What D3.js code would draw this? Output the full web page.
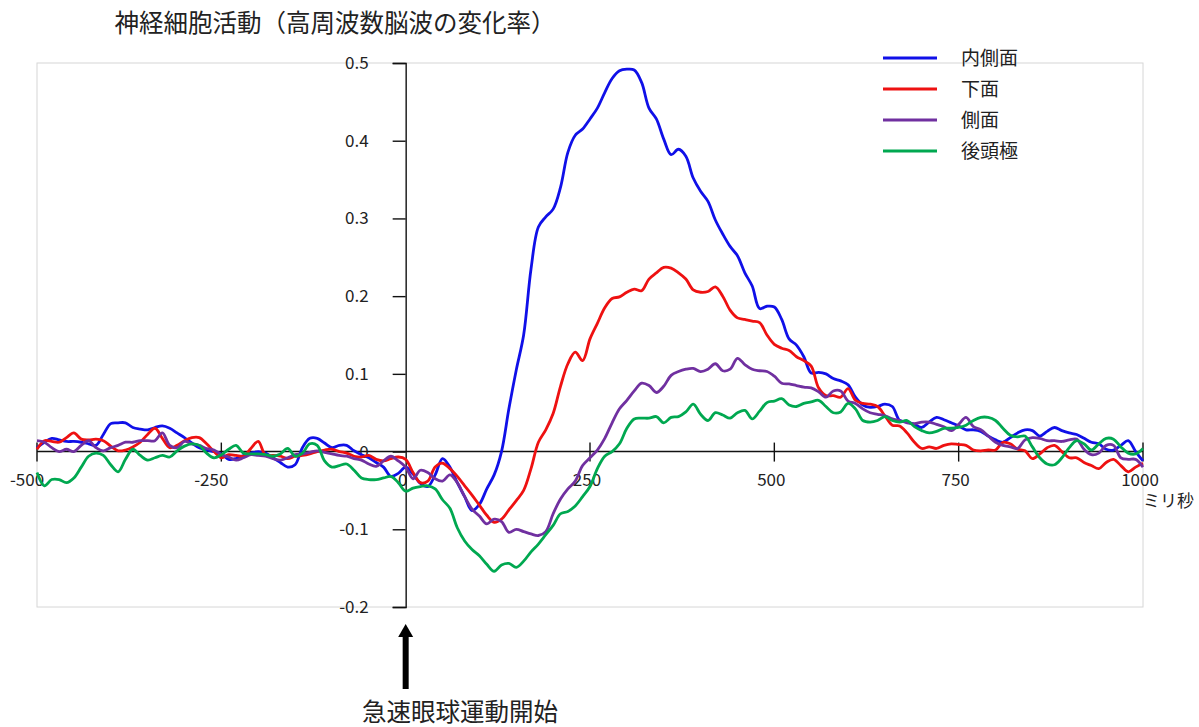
<!DOCTYPE html>
<html>
<head>
<meta charset="utf-8">
<script src="https://cdn.jsdelivr.net/npm/d3@7"></script>
<style>
  html, body { margin: 0; padding: 0; background: #fff; }
  svg { display: block; }
  text { font-family: "Noto Sans CJK JP", "Noto Sans", sans-serif; fill: #222; }
</style>
</head>
<body>
<svg id="chart" width="1199" height="727"></svg>
<script>
// ---- Data (time in ms, 10 ms steps from -500 to 1000) ----
const timeStart = -500;
const timeStep = 10;

const seriesNames = ["内側面", "下面", "側面", "後頭極"];
const seriesColors = ["#1010e8", "#ee1111", "#7030a0", "#00a850"];

const medial = [
  0.005,0.012,0.017,0.015,0.013,0.013,0.012,0.010,0.008,0.022,
  0.036,0.037,0.037,0.031,0.029,0.028,0.031,0.033,0.030,0.024,
  0.018,0.011,0.005,0.002,0.000,-0.003,-0.010,-0.009,-0.005,-0.002,
  0.000,-0.002,-0.008,-0.014,-0.020,-0.017,0.005,0.017,0.017,0.011,
  0.005,0.008,0.008,0.001,-0.004,-0.008,-0.014,-0.020,-0.032,-0.028,
  -0.020,-0.029,-0.041,-0.045,-0.030,-0.009,-0.020,-0.040,-0.058,-0.076,
  -0.068,-0.048,-0.030,0.000,0.055,0.105,0.150,0.235,0.289,0.302,
  0.312,0.340,0.385,0.407,0.415,0.428,0.442,0.462,0.480,0.490,
  0.492,0.491,0.475,0.442,0.428,0.402,0.382,0.389,0.380,0.352,
  0.335,0.322,0.298,0.280,0.264,0.252,0.230,0.213,0.184,0.187,
  0.186,0.170,0.145,0.137,0.122,0.101,0.102,0.100,0.094,0.091,
  0.086,0.070,0.060,0.057,0.058,0.061,0.058,0.040,0.038,0.035,
  0.031,0.038,0.044,0.041,0.037,0.033,0.028,0.028,0.026,0.020,
  0.015,0.012,0.018,0.024,0.028,0.027,0.020,0.026,0.031,0.027,
  0.024,0.022,0.017,0.012,0.010,0.003,0.002,0.008,0.014,0.000,
  -0.012
];
const inferior = [
  0.003,0.014,0.013,0.012,0.018,0.024,0.016,0.015,0.016,0.014,
  0.007,0.001,0.002,0.006,0.012,0.022,0.030,0.017,0.005,0.008,
  0.014,0.018,0.018,0.010,0.000,-0.008,-0.004,-0.005,-0.006,0.004,
  0.013,-0.005,-0.005,-0.006,-0.009,-0.006,-0.005,-0.003,0.000,0.002,
  0.003,0.000,-0.002,-0.006,-0.007,-0.005,-0.010,-0.012,-0.009,-0.007,
  -0.010,-0.027,-0.040,-0.038,-0.020,-0.015,-0.022,-0.032,-0.044,-0.056,
  -0.069,-0.082,-0.091,-0.087,-0.075,-0.063,-0.050,-0.022,0.012,0.028,
  0.049,0.084,0.113,0.128,0.117,0.145,0.165,0.185,0.197,0.199,
  0.205,0.209,0.207,0.222,0.230,0.237,0.236,0.230,0.222,0.208,
  0.205,0.206,0.212,0.200,0.182,0.172,0.170,0.168,0.166,0.150,
  0.138,0.133,0.130,0.122,0.117,0.110,0.082,0.072,0.072,0.070,
  0.081,0.066,0.062,0.061,0.058,0.046,0.034,0.033,0.024,0.012,
  0.004,0.006,0.004,0.008,0.010,0.009,0.008,0.002,0.001,0.002,
  0.002,0.012,0.010,0.003,0.001,-0.009,-0.003,0.005,0.008,0.000,
  -0.008,-0.008,-0.014,-0.018,-0.022,-0.014,-0.010,-0.018,-0.026,-0.020,
  -0.015
];
const lateral = [
  0.014,0.012,0.005,0.000,0.003,0.000,0.008,0.014,0.005,0.001,
  0.005,0.008,0.012,0.012,0.014,0.014,0.014,0.024,0.008,0.005,
  0.013,0.010,0.008,0.004,0.002,-0.004,-0.007,-0.011,-0.008,-0.004,
  -0.005,-0.006,-0.009,-0.011,-0.008,-0.004,-0.003,-0.001,0.001,-0.001,
  -0.003,-0.005,-0.006,-0.009,-0.011,-0.016,-0.019,-0.012,-0.006,-0.012,
  -0.020,-0.035,-0.024,-0.027,-0.035,-0.038,-0.030,-0.040,-0.058,-0.074,
  -0.083,-0.093,-0.087,-0.090,-0.104,-0.100,-0.103,-0.106,-0.108,-0.103,
  -0.080,-0.061,-0.048,-0.038,-0.018,-0.008,0.002,0.017,0.037,0.055,
  0.066,0.078,0.088,0.085,0.076,0.084,0.098,0.103,0.106,0.107,
  0.103,0.106,0.113,0.104,0.106,0.120,0.112,0.106,0.104,0.103,
  0.097,0.088,0.087,0.085,0.083,0.082,0.077,0.070,0.078,0.078,
  0.065,0.062,0.055,0.050,0.048,0.046,0.042,0.040,0.037,0.036,
  0.038,0.038,0.035,0.032,0.027,0.035,0.044,0.032,0.028,0.020,
  0.012,0.008,0.006,0.004,0.015,0.018,0.017,0.014,0.014,0.013,
  0.015,0.016,0.003,-0.004,-0.002,0.008,0.008,-0.008,-0.010,-0.010,
  -0.020
];
const occipital = [
  -0.027,-0.044,-0.036,-0.036,-0.040,-0.034,-0.020,-0.006,-0.002,-0.005,
  -0.017,-0.026,-0.010,0.003,-0.005,-0.011,-0.008,-0.005,-0.007,0.001,
  0.007,0.010,0.008,-0.002,-0.008,-0.004,0.003,0.008,-0.002,-0.003,
  -0.003,-0.004,-0.006,-0.003,0.004,-0.006,-0.002,0.010,0.008,-0.012,
  -0.020,-0.018,-0.016,-0.024,-0.034,-0.036,-0.036,-0.034,-0.032,-0.040,
  -0.051,-0.047,-0.045,-0.044,-0.048,-0.062,-0.073,-0.098,-0.115,-0.126,
  -0.134,-0.145,-0.154,-0.146,-0.144,-0.149,-0.141,-0.129,-0.119,-0.107,
  -0.095,-0.080,-0.077,-0.070,-0.058,-0.045,-0.022,-0.006,0.000,0.010,
  0.030,0.042,0.043,0.043,0.045,0.037,0.044,0.045,0.051,0.061,
  0.048,0.040,0.050,0.047,0.043,0.050,0.053,0.042,0.052,0.063,
  0.065,0.068,0.060,0.058,0.062,0.064,0.066,0.058,0.050,0.051,
  0.062,0.055,0.040,0.038,0.040,0.045,0.040,0.038,0.040,0.032,
  0.027,0.024,0.026,0.030,0.030,0.031,0.034,0.040,0.044,0.044,
  0.040,0.030,0.021,0.019,0.020,0.006,-0.008,-0.016,-0.017,-0.008,
  0.005,0.014,0.010,0.002,0.010,0.017,0.016,0.006,-0.002,-0.003,
  0.004
];

const xTicks = [-500, -250, 0, 250, 500, 750, 1000];
const yTicks = [-0.2, -0.1, 0, 0.1, 0.2, 0.3, 0.4, 0.5];
const titleText = "神経細胞活動（高周波数脳波の変化率）";
const xUnitText = "ミリ秒";
const markerText = "急速眼球運動開始";

// ---- Drawing ----
const svg = d3.select("#chart");
const x = d3.scaleLinear().domain([-500, 1000]).range([37, 1143]);
const y = d3.scaleLinear().domain([-0.2, 0.5]).range([607, 63]);

// plot area border
svg.append("rect")
  .attr("x", x(-500)).attr("y", y(0.5))
  .attr("width", x(1000) - x(-500)).attr("height", y(-0.2) - y(0.5))
  .attr("fill", "none").attr("stroke", "#d6d6d6").attr("stroke-width", 1);

// title
svg.append("text")
  .attr("x", 335).attr("y", 32)
  .attr("text-anchor", "middle")
  .attr("font-size", 24.5)
  .text(titleText);

// series lines
const allSeries = [medial, inferior, lateral, occipital];
const line = d3.line()
  .x((d, i) => x(timeStart + i * timeStep))
  .y(d => y(d))
  .curve(d3.curveCatmullRom.alpha(0.5));

// x axis (at y=0) with crossing ticks
const xAxisG = svg.append("g").attr("transform", `translate(0,${y(0)})`);
xAxisG.append("line")
  .attr("x1", x(-500)).attr("x2", x(1000))
  .attr("stroke", "#111").attr("stroke-width", 1.4);
xAxisG.selectAll("line.tick")
  .data(xTicks.filter(t => t !== 0))
  .enter().append("line")
  .attr("class", "tick")
  .attr("x1", d => x(d)).attr("x2", d => x(d))
  .attr("y1", -9).attr("y2", 10)
  .attr("stroke", "#111").attr("stroke-width", 1.4);
xAxisG.selectAll("text")
  .data(xTicks)
  .enter().append("text")
  .attr("x", d => x(d) - (d < 0 ? 10 : 3))
  .attr("y", 34)
  .attr("text-anchor", "middle")
  .attr("font-family", "'Noto Sans', sans-serif")
  .attr("font-size", 17)
  .text(d => String(d));

// y axis at x=0
const yAxis = d3.axisLeft(y)
  .tickValues(yTicks)
  .tickSize(13)
  .tickPadding(24)
  .tickFormat(d => (Math.abs(d) < 1e-9 ? "0" : (d < 0 ? "-" : "") + Math.abs(d).toFixed(1)));
const yAxisG = svg.append("g")
  .attr("transform", `translate(${x(0)},0)`)
  .call(yAxis);
yAxisG.select(".domain").attr("stroke", "#111").attr("stroke-width", 1.4);
yAxisG.selectAll(".tick line").attr("stroke", "#111").attr("stroke-width", 1.4);
yAxisG.selectAll(".tick text")
  .attr("font-family", "'Noto Sans', sans-serif")
  .attr("font-size", 17)
  .attr("fill", "#222");

svg.selectAll("path.series")
  .data(allSeries)
  .enter().append("path")
  .attr("class", "series")
  .attr("d", d => line(d))
  .attr("fill", "none")
  .attr("stroke", (d, i) => seriesColors[i])
  .attr("stroke-width", 2.8)
  .attr("stroke-linejoin", "round");

// x unit label
svg.append("text")
  .attr("x", x(1000)).attr("y", 507)
  .attr("font-size", 17)
  .text(xUnitText);

// legend
const legend = svg.append("g");
seriesNames.forEach((name, i) => {
  const ly = 58 + i * 31;
  legend.append("line")
    .attr("x1", 883).attr("x2", 937)
    .attr("y1", ly).attr("y2", ly)
    .attr("stroke", seriesColors[i]).attr("stroke-width", 3);
  legend.append("text")
    .attr("x", 961).attr("y", ly + 7)
    .attr("font-size", 19)
    .text(name);
});

// arrow marking saccade onset
const ax = x(0);
svg.append("rect")
  .attr("x", ax - 3).attr("y", 634)
  .attr("width", 6).attr("height", 55)
  .attr("fill", "#000");
svg.append("path")
  .attr("d", `M${ax},624 L${ax - 7.5},637 L${ax + 7.5},637 Z`)
  .attr("fill", "#000");
svg.append("text")
  .attr("x", 460).attr("y", 721)
  .attr("text-anchor", "middle")
  .attr("font-size", 24.5)
  .text(markerText);
</script>
</body>
</html>
